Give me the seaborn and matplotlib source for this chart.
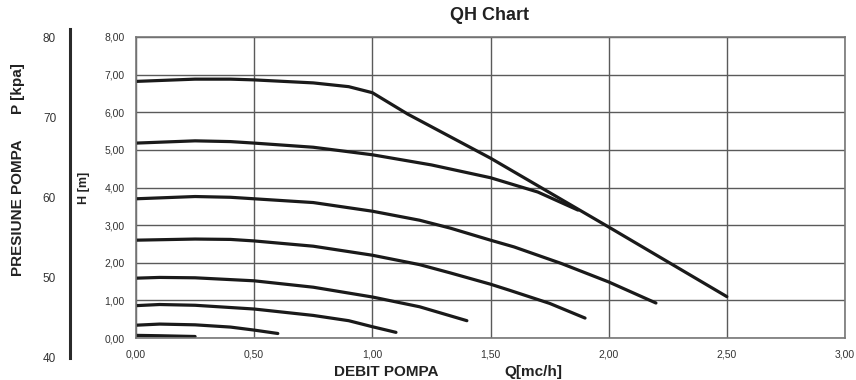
import pandas as pd
import matplotlib
matplotlib.use("Agg")
import matplotlib.pyplot as plt
import seaborn as sns

# QH curves, one per pump speed
q1 = [0, 0.25, 0.40, 0.50, 0.75, 0.90, 1.00, 1.15, 1.50, 2.00, 2.50]
h1 = [6.82, 6.88, 6.88, 6.86, 6.78, 6.68, 6.52, 5.95, 4.78, 2.95, 1.10]

q2 = [0, 0.25, 0.40, 0.50, 0.75, 1.00, 1.25, 1.50, 1.70, 1.87]
h2 = [5.18, 5.24, 5.22, 5.18, 5.07, 4.87, 4.60, 4.26, 3.88, 3.40]

q3 = [0, 0.25, 0.40, 0.50, 0.75, 1.00, 1.20, 1.33, 1.50, 1.60, 1.80, 2.00, 2.20]
h3 = [3.70, 3.76, 3.74, 3.70, 3.60, 3.37, 3.13, 2.92, 2.60, 2.42, 1.98, 1.49, 0.93]

q4 = [0, 0.25, 0.40, 0.50, 0.75, 1.00, 1.20, 1.33, 1.50, 1.58, 1.75, 1.90]
h4 = [2.60, 2.63, 2.62, 2.58, 2.44, 2.20, 1.95, 1.73, 1.43, 1.27, 0.92, 0.53]

q5 = [0, 0.10, 0.25, 0.50, 0.75, 1.00, 1.20, 1.40]
h5 = [1.59, 1.61, 1.60, 1.52, 1.35, 1.09, 0.83, 0.46]

q6 = [0, 0.10, 0.25, 0.50, 0.75, 0.90, 1.00, 1.10]
h6 = [0.86, 0.89, 0.87, 0.77, 0.60, 0.46, 0.30, 0.15]

q7 = [0, 0.10, 0.25, 0.40, 0.50, 0.60]
h7 = [0.34, 0.37, 0.35, 0.29, 0.21, 0.12]

q8 = [0, 0.10, 0.25]
h8 = [0.07, 0.06, 0.04]

x_ticks = [0, 0.5, 1.0, 1.5, 2.0, 2.5, 3.0]
y_ticks = [0, 1, 2, 3, 4, 5, 6, 7, 8]
p_ticks = [40, 50, 60, 70, 80]

curves = [(q1, h1), (q2, h2), (q3, h3), (q4, h4),
          (q5, h5), (q6, h6), (q7, h7), (q8, h8)]

rows = []
for i, (q, h) in enumerate(curves):
    for a, b in zip(q, h):
        rows.append({"curve": i, "Q": a, "H": b})
df = pd.DataFrame(rows)

sns.set_style("white")
plt.rcParams["font.family"] = ["Liberation Sans", "DejaVu Sans"]

W, H = 856, 380
fig = plt.figure(figsize=(8.56, 3.80), dpi=100)

# main chart area
ax = fig.add_axes([136 / W, 1 - 338 / H, (845 - 136) / W, (338 - 37) / H])

sns.lineplot(
    data=df, x="Q", y="H", units="curve", estimator=None,
    sort=False, color="#1a1a1a", linewidth=2.3, ax=ax
)

ax.set_xlim(0, 3)
ax.set_ylim(0, 8)
ax.set_xticks(x_ticks)
ax.set_yticks(y_ticks)
ax.set_xticklabels([f"{v:.2f}".replace(".", ",") for v in x_ticks])
ax.set_yticklabels([f"{v:.2f}".replace(".", ",") for v in y_ticks])
ax.tick_params(axis="both", labelsize=7.5, colors="#555555", labelcolor="#333333",
               direction="out", length=3, width=1, pad=5)
ax.grid(True, color="#5a5a5a", linewidth=1)
for s in ax.spines.values():
    s.set_color("#777777")
    s.set_linewidth(1.2)
ax.set_xlabel("")
ax.set_ylabel("")

# secondary pressure scale on the left
ax2 = fig.add_axes([70 / W, 1 - 358 / H, 0.0001, (358 - 29) / H])
ax2.set_ylim(39.9, 81.05)
ax2.set_yticks(p_ticks)
ax2.set_xticks([])
for name, s in ax2.spines.items():
    s.set_visible(name == "left")
ax2.spines["left"].set_color("#2a2a2a")
ax2.spines["left"].set_linewidth(2.2)
ax2.tick_params(axis="y", length=0, pad=10, labelsize=8.5, labelcolor="#333333")
ax2.patch.set_alpha(0)

# texts
fig.text(490 / W, 1 - 16 / H, "QH Chart", ha="center", va="center",
         fontsize=13, fontweight="bold", color="#222222")
fig.text(84 / W, 1 - 188 / H, "H [m]", ha="center", va="center", rotation=90,
         fontsize=9, fontweight="bold", color="#222222")
fig.text(386 / W, 1 - 372 / H, "DEBIT POMPA", ha="center", va="center",
         fontsize=11, fontweight="bold", color="#222222")
fig.text(533 / W, 1 - 372 / H, "Q[mc/h]", ha="center", va="center",
         fontsize=11, fontweight="bold", color="#222222")
fig.text(18 / W, 1 - 208 / H, "PRESIUNE POMPA", ha="center", va="center",
         rotation=90, fontsize=11, fontweight="bold", color="#222222")
fig.text(18 / W, 1 - 89 / H, "P [kpa]", ha="center", va="center",
         rotation=90, fontsize=11, fontweight="bold", color="#222222")

fig.savefig("out.png", dpi=100)
